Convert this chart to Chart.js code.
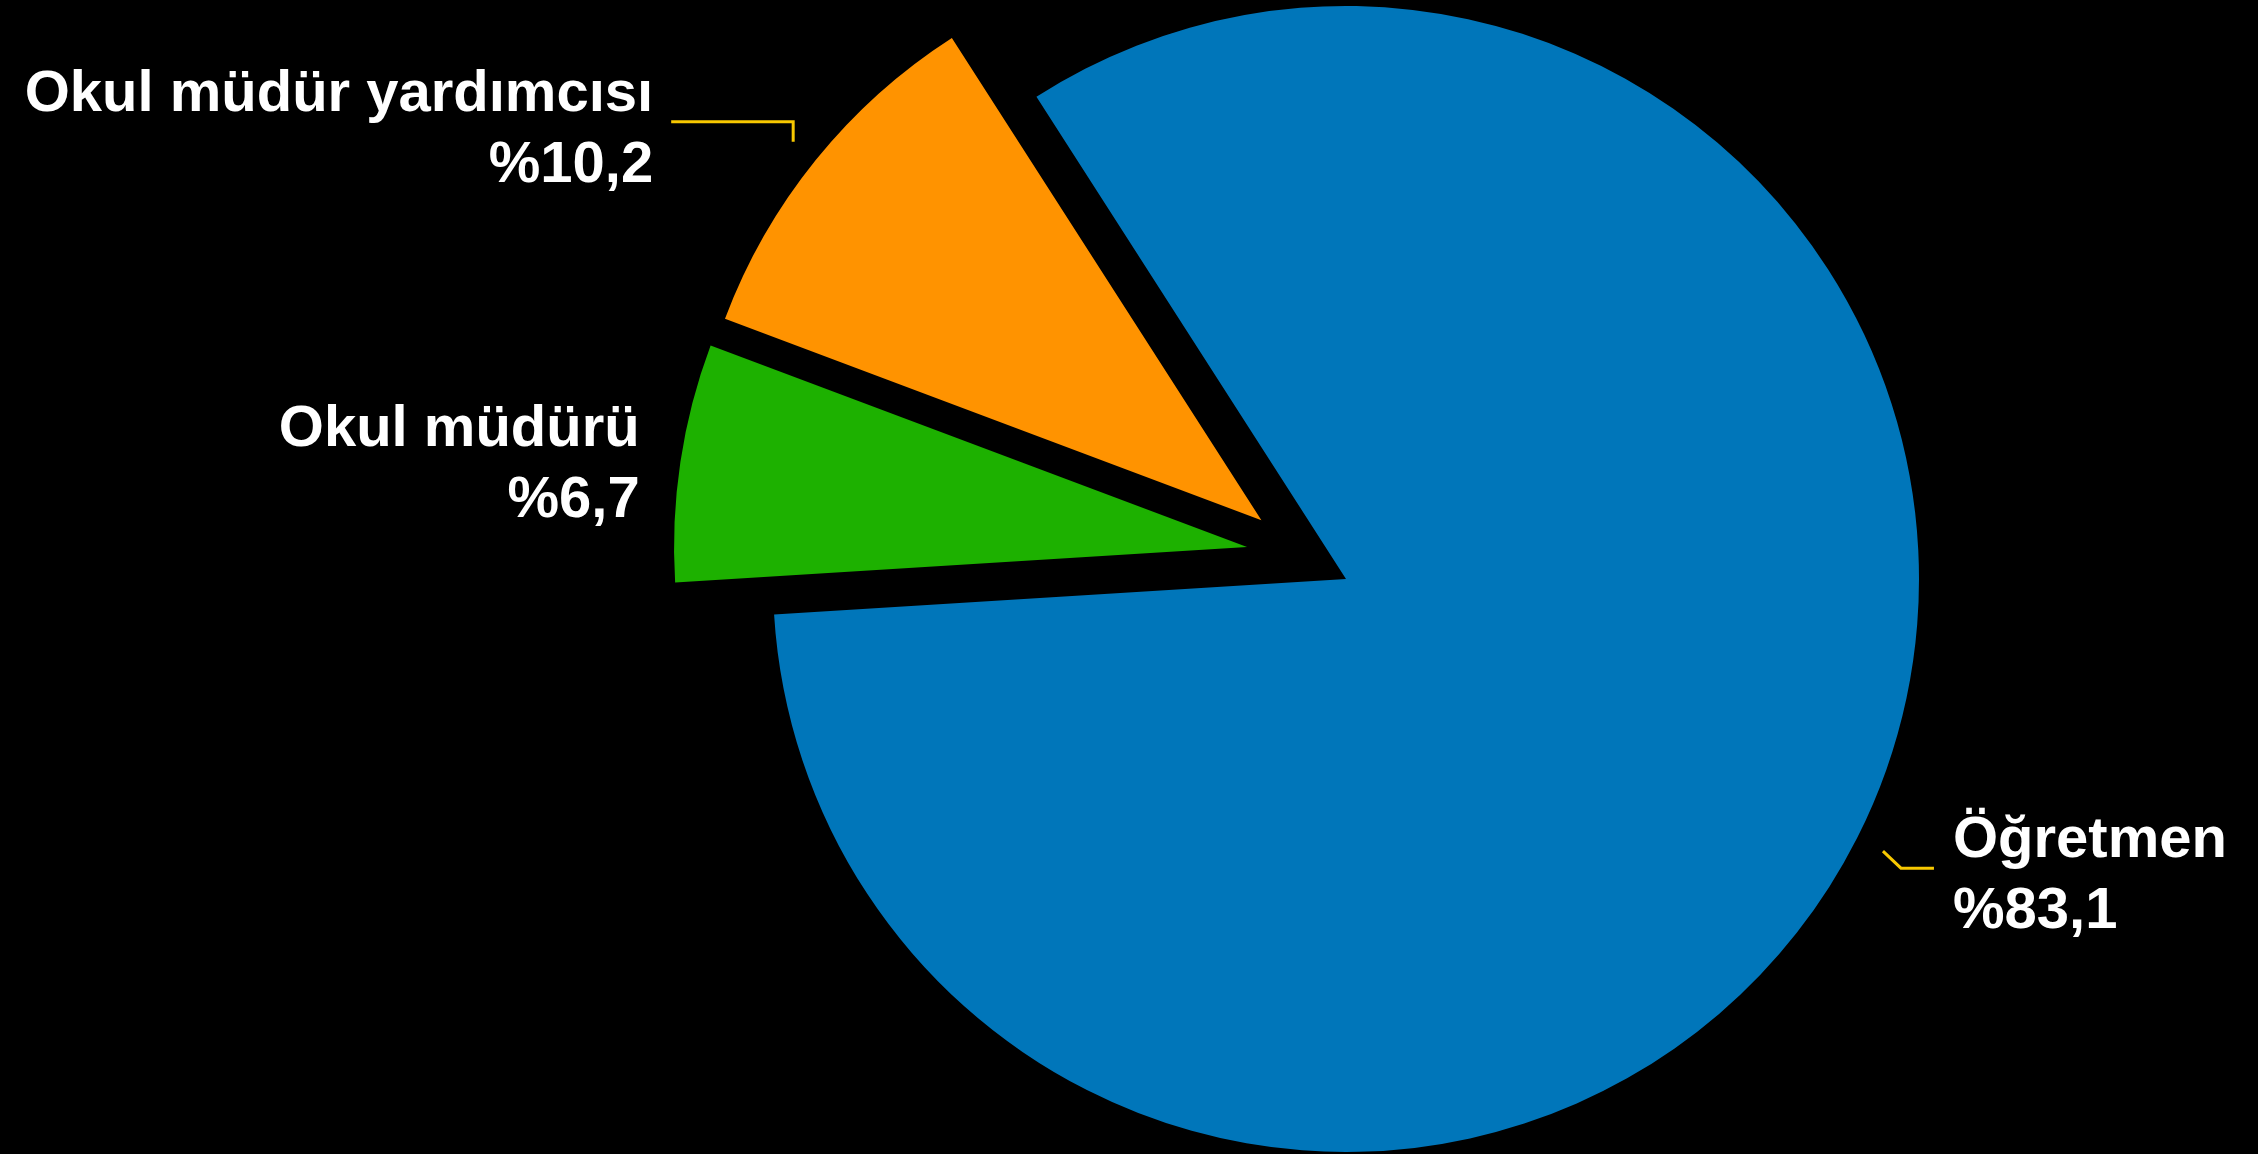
<!DOCTYPE html>
<html lang="tr">
<head>
<meta charset="utf-8">
<title>Görev dağılımı</title>
<script src="https://cdn.jsdelivr.net/npm/chart.js@4.4.1/dist/chart.umd.min.js"></script>
<style>
    html, body { margin: 0; padding: 0; background: #000; overflow: hidden; }
    #wrap { width: 2258px; height: 1154px; }
</style>
</head>
<body>
<div id="wrap"><canvas id="pie" width="2258" height="1154"></canvas></div>
<script>
// 📊 DATA
const categories = ['Öğretmen', 'Okul müdürü', 'Okul müdür yardımcısı'];
const shares = [83.1, 6.7, 10.2];

// 🎨 STYLE
const sliceColors = ['#0076BA', '#1DB100', '#FF9300'];
const explodeDist = [0, 104, 103];        // px pulled out of the pie
const explodeAngle = [0, 287.9, 304.8];   // deg, clockwise from 12 o'clock
const leaderColor = '#F7C800';
const labelFont = 'bold 58px "Liberation Sans", Arial, sans-serif';
const lineGap = 71;
const leaderGap = 29;

// label + leader layout, relative to the point just outside each slice
const labelLayout = [
    { align: 'left',  leader: [[18, 17], [33, 0]],   dx: 19,  dy: -11 },
    { align: 'right', leader: [],                    dx: -12, dy: -12 },
    { align: 'right', leader: [[0, -20], [-122, 0]], dx: -18, dy: -11 }
];

function pctText(v) {
    return '%' + v.toFixed(1).replace('.', ',');
}

// 💥 pull slices out in a fixed direction
const explodePlugin = {
    id: 'explode',
    afterDatasetsUpdate(chart) {
        const arcs = chart.getDatasetMeta(0).data;
        arcs.forEach((arc, i) => {
            const a = explodeAngle[i] * Math.PI / 180;
            arc.x += Math.sin(a) * explodeDist[i];
            arc.y -= Math.cos(a) * explodeDist[i];
        });
    }
};

// 🏷️ outside labels with leader lines
const labelPlugin = {
    id: 'outsideLabels',
    afterDatasetsDraw(chart) {
        const ctx = chart.ctx;
        const arcs = chart.getDatasetMeta(0).data;
        ctx.save();
        arcs.forEach((arc, i) => {
            const mid = (arc.startAngle + arc.endAngle) / 2;
            const r = arc.outerRadius + leaderGap;
            let x = arc.x + Math.cos(mid) * r;
            let y = arc.y + Math.sin(mid) * r;
            const lay = labelLayout[i];

            if (lay.leader.length) {
                ctx.beginPath();
                ctx.moveTo(x, y);
                lay.leader.forEach(s => {
                    x += s[0];
                    y += s[1];
                    ctx.lineTo(x, y);
                });
                ctx.strokeStyle = leaderColor;
                ctx.lineWidth = 3;
                ctx.lineJoin = 'miter';
                ctx.stroke();
            }

            ctx.font = labelFont;
            ctx.fillStyle = '#FFFFFF';
            ctx.textAlign = lay.align;
            ctx.textBaseline = 'alphabetic';
            ctx.fillText(categories[i], x + lay.dx, y + lay.dy);
            ctx.fillText(pctText(shares[i]), x + lay.dx, y + lay.dy + lineGap);
        });
        ctx.restore();
    }
};

// 🏗️ INITIALIZATION
const ctx = document.getElementById('pie').getContext('2d');
const pieChart = new Chart(ctx, {
    type: 'pie',
    data: {
        labels: categories,
        datasets: [{
            data: shares,
            backgroundColor: sliceColors,
            borderWidth: 0,
            offset: 0
        }]
    },
    options: {
        responsive: false,
        animation: false,
        events: [],
        rotation: 327.3,
        radius: 573,
        layout: { padding: { left: 434, right: 0, top: 4, bottom: 0 } },
        plugins: {
            legend: { display: false },
            tooltip: { enabled: false }
        }
    },
    plugins: [explodePlugin, labelPlugin]
});
</script>
</body>
</html>
